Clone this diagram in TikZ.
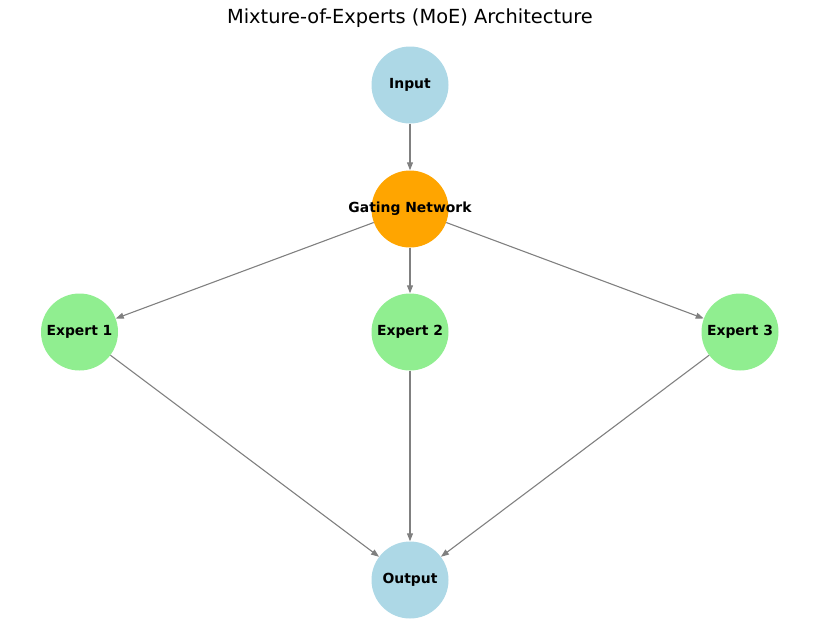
\documentclass[tikz,border=0pt]{standalone}
\usepackage{fontspec}
\setmainfont{DejaVu Sans}
\usetikzlibrary{arrows.meta}
\definecolor{nlightblue}{RGB}{173,216,230}
\definecolor{norange}{RGB}{255,165,0}
\definecolor{nlightgreen}{RGB}{144,238,144}
\definecolor{edgegray}{RGB}{128,128,128}
\begin{document}
\begin{tikzpicture}[x=1pt,y=-1pt,
  nodebase/.style={circle,minimum size=77pt,inner sep=0pt,font=\fontsize{13.9}{16}\selectfont\bfseries},
  blue node/.style={nodebase,fill=nlightblue},
  orange node/.style={nodebase,fill=norange},
  green node/.style={nodebase,fill=nlightgreen},
  edge/.style={draw=edgegray,line width=1.1pt,-{Triangle[length=8pt,width=6pt]}}]
\useasboundingbox (0,0) rectangle (819,643);
\node[font=\fontsize{19.4}{23}\selectfont] (title) at (410,18) {Mixture-of-Experts (MoE) Architecture};
\node[blue node] (input) at (410,85) {\makebox[0pt][c]{Input}};
\node[orange node] (gate) at (410,209) {\makebox[0pt][c]{Gating Network}};
\node[green node] (e1) at (79.5,332) {\makebox[0pt][c]{Expert 1}};
\node[green node] (e2) at (410,332) {\makebox[0pt][c]{Expert 2}};
\node[green node] (e3) at (740,332) {\makebox[0pt][c]{Expert 3}};
\node[blue node] (output) at (410,580) {\makebox[0pt][c]{Output}};
\draw[edge] (input) -- (gate);
\draw[edge] (gate) -- (e1);
\draw[edge] (gate) -- (e2);
\draw[edge] (gate) -- (e3);
\draw[edge] (e1) -- (output);
\draw[edge] (e2) -- (output);
\draw[edge] (e3) -- (output);
\end{tikzpicture}
\end{document}
